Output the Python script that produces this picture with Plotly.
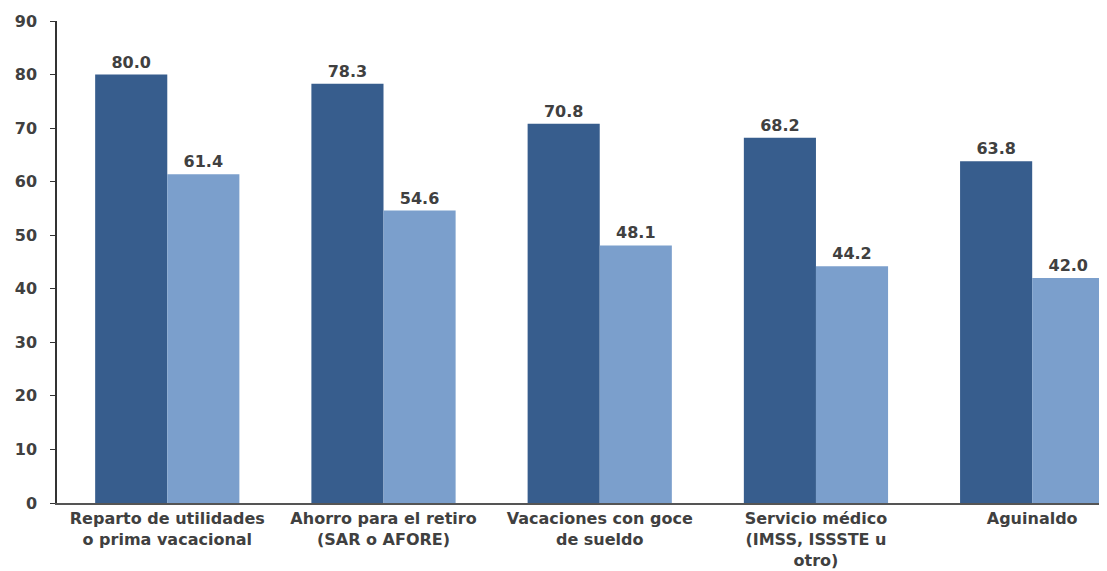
import plotly.graph_objects as go

categories = [
    "Reparto de utilidades<br>o prima vacacional",
    "Ahorro para el retiro<br>(SAR o AFORE)",
    "Vacaciones con goce<br>de sueldo",
    "Servicio médico<br>(IMSS, ISSSTE u<br>otro)",
    "Aguinaldo",
]
serie_a = [80.0, 78.3, 70.8, 68.2, 63.8]
serie_b = [61.4, 54.6, 48.1, 44.2, 42.0]
y_ticks = [0, 10, 20, 30, 40, 50, 60, 70, 80, 90]

dark = "#375D8D"
light = "#7B9FCC"
font_family = "DejaVu Sans, Verdana, sans-serif"
txt_color = "#404040"

# page body has a default 8px margin; compensate so the plot lands where the reference has it
fig = go.Figure()
fig.add_trace(go.Bar(
    x=list(range(len(categories))), y=serie_a, marker_color=dark,
    marker_line_width=0,
    text=[f"{v:.1f}" for v in serie_a], textposition="outside",
    textfont=dict(size=16, color=txt_color, family=font_family, weight="bold"),
    cliponaxis=False, showlegend=False,
))
fig.add_trace(go.Bar(
    x=list(range(len(categories))), y=serie_b, marker_color=light,
    marker_line_width=0,
    text=[f"{v:.1f}" for v in serie_b], textposition="outside",
    textfont=dict(size=16, color=txt_color, family=font_family, weight="bold"),
    cliponaxis=True, showlegend=False,
))

fig.update_layout(
    width=1099, height=563,
    margin=dict(l=49, r=0, t=13, b=68),
    barmode="group", bargap=0.333, bargroupgap=0,
    plot_bgcolor="white", paper_bgcolor="white",
    font=dict(family=font_family, size=16, color=txt_color, weight="bold"),
)
fig.update_xaxes(
    tickmode="array", tickvals=list(range(len(categories))), ticktext=categories,
    range=[-0.51, 4.346], showline=True, linecolor="#555555", linewidth=1.5,
    ticks="", showgrid=False, zeroline=False, automargin=False,
    ticklabelstandoff=0,
    tickfont=dict(size=16, color=txt_color, family=font_family, weight="bold"),
)
fig.update_yaxes(
    range=[0, 90], tickvals=y_ticks, showline=True, linecolor="#333333", linewidth=1.5,
    ticks="outside", ticklen=5, tickcolor="#333333", showgrid=False, zeroline=False,
    automargin=False, ticklabelstandoff=10,
    tickfont=dict(size=16, color=txt_color, family=font_family, weight="bold"),
)

fig.write_html("out.html")
